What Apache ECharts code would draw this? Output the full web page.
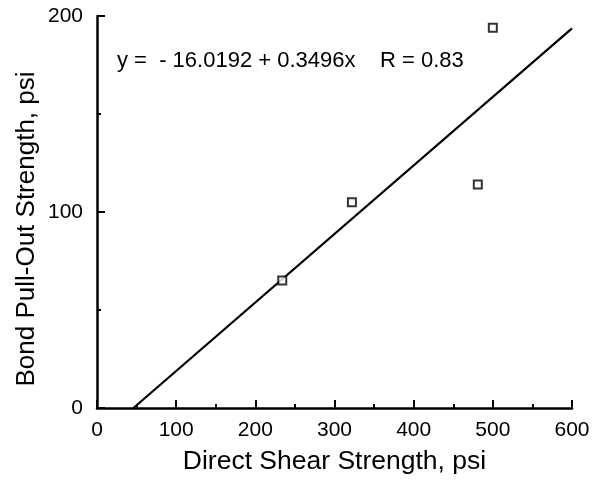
<!DOCTYPE html>
<html>
<head>
<meta charset="utf-8">
<script src="https://cdn.jsdelivr.net/npm/echarts@6/dist/echarts.min.js"></script>
<style>
  html, body { margin: 0; padding: 0; background: #fff; }
  #main { width: 597px; height: 480px; }
</style>
</head>
<body>
<div id="main"></div>
<script>
// measured points
var shearX = [234, 322, 481, 500];
var pullY = [65, 105, 114, 194];

// fitted line y = -16.0192 + 0.3496x, end points as drawn
var fitX = [46, 600];
var fitY = [0, 193.7];

var xTicks = [0, 100, 200, 300, 400, 500, 600];
var yTicks = [0, 100, 200];

var equation = 'y =  - 16.0192 + 0.3496x    R = 0.83';

var chart = echarts.init(document.getElementById('main'));
var font = 'Liberation Sans, Arial, sans-serif';
var ink = '#000';

option = {
    backgroundColor: '#fff',
    animation: false,
    grid: { left: 97, right: 25, top: 16, bottom: 70 },
    xAxis: {
        type: 'value',
        min: xTicks[0],
        max: xTicks[xTicks.length - 1],
        interval: 100,
        name: 'Direct Shear Strength, psi',
        nameLocation: 'middle',
        nameGap: 40,
        nameTextStyle: { color: ink, fontSize: 26.5, fontFamily: font },
        axisLine: { lineStyle: { color: ink, width: 2.5 } },
        axisTick: { inside: true, length: 8, lineStyle: { color: ink, width: 2 } },
        minorTick: { show: true, splitNumber: 2, length: 4, lineStyle: { color: ink, width: 2 } },
        axisLabel: { color: ink, fontSize: 21, fontFamily: font, margin: 12 },
        splitLine: { show: false }
    },
    yAxis: {
        type: 'value',
        min: yTicks[0],
        max: yTicks[yTicks.length - 1],
        interval: 100,
        axisLine: { show: true, lineStyle: { color: ink, width: 2.5 } },
        axisTick: { show: true, inside: true, length: 8, lineStyle: { color: ink, width: 2 } },
        minorTick: { show: true, splitNumber: 2, length: 4, lineStyle: { color: ink, width: 2 } },
        axisLabel: { color: ink, fontSize: 21, fontFamily: font, margin: 14 },
        splitLine: { show: false }
    },
    graphic: [
        {
            type: 'text',
            x: 117,
            y: 61,
            style: { text: equation, fill: ink, fontSize: 22, fontFamily: font, verticalAlign: 'middle' }
        },
        {
            // y axis title sits a little below the axis centre in the reference
            type: 'text',
            x: 27,
            y: 229,
            rotation: Math.PI / 2,
            style: {
                text: 'Bond Pull-Out Strength, psi',
                fill: ink, fontSize: 26, fontFamily: font,
                align: 'center', verticalAlign: 'middle'
            }
        }
    ],
    series: [
        {
            type: 'line',
            data: fitX.map(function (x, i) { return [x, fitY[i]]; }),
            showSymbol: false,
            lineStyle: { color: ink, width: 2.2 },
            z: 2
        },
        {
            type: 'scatter',
            data: shearX.map(function (x, i) { return [x, pullY[i]]; }),
            symbol: 'rect',
            symbolSize: 8,
            itemStyle: { color: '#fff', borderColor: ink, borderWidth: 2 },
            z: 3
        }
    ]
};
chart.setOption(option);
</script>
</body>
</html>
